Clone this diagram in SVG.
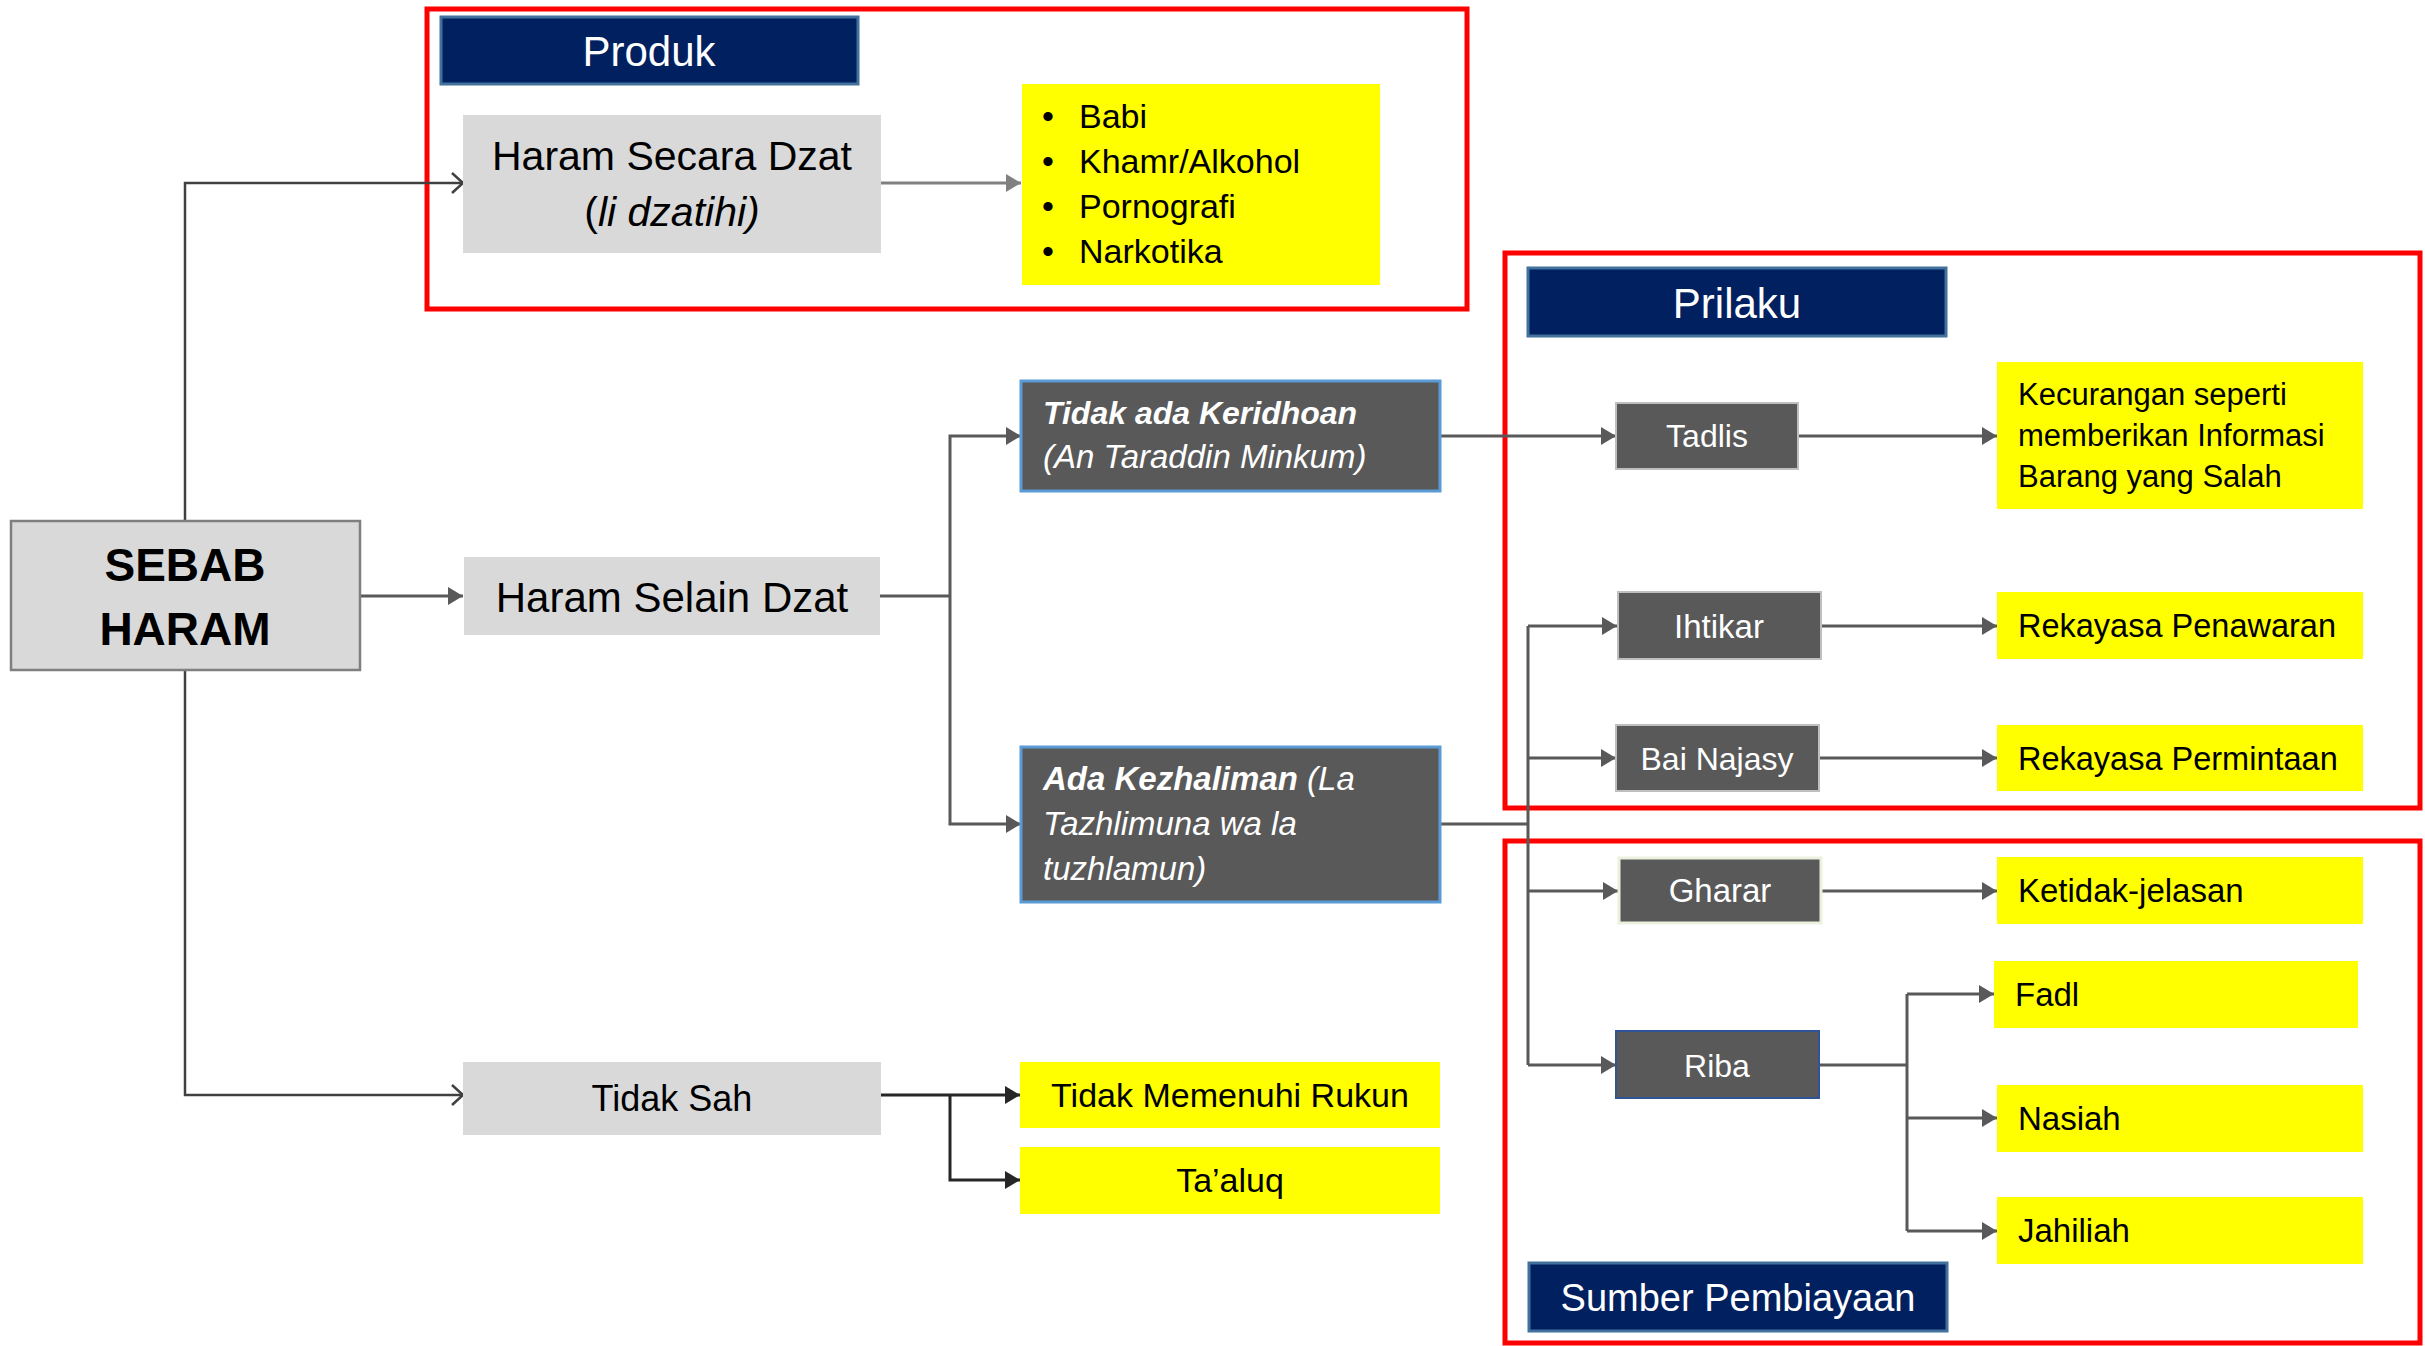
<svg xmlns="http://www.w3.org/2000/svg" width="2425" height="1346" viewBox="0 0 2425 1346">
  <style>
    .t { font-family: "Liberation Sans", Arial, sans-serif; }
    .dark { fill: #000000; }
    .light { fill: #ffffff; }
    .grey-box { fill: #d9d9d9; }
    .dark-box { fill: #595959; }
    .yellow { fill: #ffff00; }
    .header { fill: #002060; stroke: #41719c; stroke-width: 3; }
    .frame { fill: none; stroke: #ff0000; stroke-width: 5; }
    .conn { fill: none; stroke: #595959; stroke-width: 3; }
    .thin { fill: none; stroke: #404040; stroke-width: 2.5; }
  </style>
  <defs>
    <marker id="tri" markerUnits="userSpaceOnUse" markerWidth="16" markerHeight="18" refX="15" refY="9" orient="auto">
      <path d="M0,0 L15,9 L0,18 Z" fill="#595959"/>
    </marker>
    <marker id="tri-light" markerUnits="userSpaceOnUse" markerWidth="16" markerHeight="18" refX="15" refY="9" orient="auto">
      <path d="M0,0 L15,9 L0,18 Z" fill="#808080"/>
    </marker>
    <marker id="tri-black" markerUnits="userSpaceOnUse" markerWidth="16" markerHeight="18" refX="15" refY="9" orient="auto">
      <path d="M0,0 L15,9 L0,18 Z" fill="#262626"/>
    </marker>
    <marker id="open" markerUnits="userSpaceOnUse" markerWidth="16" markerHeight="24" refX="13" refY="12" orient="auto">
      <path d="M2,2 L13,12 L2,22" fill="none" stroke="#404040" stroke-width="2.5"/>
    </marker>
  </defs>

  <rect width="2425" height="1346" fill="#ffffff"/>

  <!-- grouping frames -->
  <g id="frames">
    <rect class="frame" x="427" y="9" width="1040" height="300"/>
    <rect class="frame" x="1505" y="253" width="915" height="555"/>
    <rect class="frame" x="1505" y="841" width="915" height="502"/>
  </g>

  <!-- connectors -->
  <g id="connectors">
    <path class="thin" d="M185,521 V183 H463" marker-end="url(#open)"/>
    <path class="thin" d="M185,670 V1095 H463" marker-end="url(#open)"/>
    <path class="conn" d="M360,596 H463" marker-end="url(#tri)"/>
    <path class="conn" stroke="#808080" style="stroke:#808080" d="M881,183 H1021" marker-end="url(#tri-light)"/>
    <path class="conn" d="M880,596 H950"/>
    <path class="conn" d="M950,596 V436 H1021" marker-end="url(#tri)"/>
    <path class="conn" d="M950,596 V824 H1021" marker-end="url(#tri)"/>
    <path class="conn" d="M1440,436 H1616" marker-end="url(#tri)"/>
    <path class="conn" d="M1440,824 H1528"/>
    <path class="conn" d="M1528,626 V1065"/>
    <path class="conn" d="M1528,626 H1617" marker-end="url(#tri)"/>
    <path class="conn" d="M1528,758 H1616" marker-end="url(#tri)"/>
    <path class="conn" d="M1528,891 H1618" marker-end="url(#tri)"/>
    <path class="conn" d="M1528,1065 H1616" marker-end="url(#tri)"/>
    <path class="conn" d="M1798,436 H1997" marker-end="url(#tri)"/>
    <path class="conn" d="M1821,626 H1997" marker-end="url(#tri)"/>
    <path class="conn" d="M1819,758 H1997" marker-end="url(#tri)"/>
    <path class="conn" d="M1821,891 H1997" marker-end="url(#tri)"/>
    <path class="conn" d="M1819,1065 H1907"/>
    <path class="conn" d="M1907,994 V1231"/>
    <path class="conn" d="M1907,994 H1994" marker-end="url(#tri)"/>
    <path class="conn" d="M1907,1118 H1997" marker-end="url(#tri)"/>
    <path class="conn" d="M1907,1231 H1997" marker-end="url(#tri)"/>
    <path class="conn" style="stroke:#262626" d="M881,1095 H1020" marker-end="url(#tri-black)"/>
    <path class="conn" style="stroke:#262626" d="M950,1095 V1180 H1020" marker-end="url(#tri-black)"/>
  </g>

  <!-- root -->
  <g id="sebab-haram">
    <rect class="grey-box" x="11" y="521" width="349" height="149" stroke="#7f7f7f" stroke-width="2.5"/>
    <text class="t dark" x="185" y="581" font-size="46" font-weight="bold" text-anchor="middle">SEBAB</text>
    <text class="t dark" x="185" y="645" font-size="46" font-weight="bold" text-anchor="middle">HARAM</text>
  </g>

  <!-- Produk -->
  <g id="produk-header">
    <rect class="header" x="441" y="17" width="417" height="67"/>
    <text class="t light" x="649" y="66" font-size="42" text-anchor="middle">Produk</text>
  </g>
  <g id="haram-secara-dzat">
    <rect class="grey-box" x="463" y="115" width="418" height="138"/>
    <text class="t dark" x="672" y="170" font-size="41" text-anchor="middle">Haram Secara Dzat</text>
    <text class="t dark" x="672" y="226" font-size="41" text-anchor="middle">(<tspan font-style="italic">li dzatihi)</tspan></text>
  </g>
  <g id="produk-list">
    <rect class="yellow" x="1022" y="84" width="358" height="201"/>
    <g class="t dark" font-size="34">
      <text x="1042" y="128">•</text><text x="1079" y="128">Babi</text>
      <text x="1042" y="173">•</text><text x="1079" y="173">Khamr/Alkohol</text>
      <text x="1042" y="218">•</text><text x="1079" y="218">Pornografi</text>
      <text x="1042" y="263">•</text><text x="1079" y="263">Narkotika</text>
    </g>
  </g>

  <!-- Haram Selain Dzat -->
  <g id="haram-selain-dzat">
    <rect class="grey-box" x="464" y="557" width="416" height="78"/>
    <text class="t dark" x="672" y="612" font-size="42" text-anchor="middle">Haram Selain Dzat</text>
  </g>
  <g id="tidak-ada-keridhoan">
    <rect class="dark-box" x="1021" y="381" width="419" height="110" stroke="#5b9bd5" stroke-width="3"/>
    <text class="t light" x="1043" y="424" font-size="32" font-weight="bold" font-style="italic">Tidak ada Keridhoan</text>
    <text class="t light" x="1043" y="468" font-size="33" font-style="italic">(An Taraddin Minkum)</text>
  </g>
  <g id="ada-kezhaliman">
    <rect class="dark-box" x="1021" y="747" width="419" height="155" stroke="#5b9bd5" stroke-width="3"/>
    <text class="t light" x="1043" y="790" font-size="33" font-style="italic"><tspan font-weight="bold">Ada Kezhaliman</tspan> (La</text>
    <text class="t light" x="1043" y="835" font-size="33" font-style="italic">Tazhlimuna wa la</text>
    <text class="t light" x="1043" y="880" font-size="33" font-style="italic">tuzhlamun)</text>
  </g>

  <!-- Prilaku -->
  <g id="prilaku-header">
    <rect class="header" x="1528" y="268" width="418" height="68"/>
    <text class="t light" x="1737" y="318" font-size="42" text-anchor="middle">Prilaku</text>
  </g>
  <g id="tadlis">
    <rect class="dark-box" x="1616" y="403" width="182" height="66" stroke="#bfbfbf" stroke-width="2"/>
    <text class="t light" x="1707" y="447" font-size="32" text-anchor="middle">Tadlis</text>
  </g>
  <g id="kecurangan">
    <rect class="yellow" x="1997" y="362" width="366" height="147"/>
    <g class="t dark" font-size="31">
      <text x="2018" y="405">Kecurangan seperti</text>
      <text x="2018" y="446">memberikan Informasi</text>
      <text x="2018" y="487">Barang yang Salah</text>
    </g>
  </g>
  <g id="ihtikar">
    <rect class="dark-box" x="1618" y="592" width="203" height="67" stroke="#bfbfbf" stroke-width="2"/>
    <text class="t light" x="1719" y="638" font-size="33" text-anchor="middle">Ihtikar</text>
  </g>
  <g id="rekayasa-penawaran">
    <rect class="yellow" x="1997" y="592" width="366" height="67"/>
    <text class="t dark" x="2018" y="637" font-size="32.5">Rekayasa Penawaran</text>
  </g>
  <g id="bai-najasy">
    <rect class="dark-box" x="1616" y="725" width="203" height="66" stroke="#bfbfbf" stroke-width="2"/>
    <text class="t light" x="1717" y="770" font-size="32" text-anchor="middle">Bai Najasy</text>
  </g>
  <g id="rekayasa-permintaan">
    <rect class="yellow" x="1997" y="725" width="366" height="66"/>
    <text class="t dark" x="2018" y="770" font-size="32.5">Rekayasa Permintaan</text>
  </g>

  <!-- Sumber Pembiayaan -->
  <g id="gharar">
    <rect class="dark-box" x="1619" y="858" width="202" height="65" stroke="#ebf1de" stroke-width="3"/>
    <text class="t light" x="1720" y="902" font-size="33" text-anchor="middle">Gharar</text>
  </g>
  <g id="ketidak-jelasan">
    <rect class="yellow" x="1997" y="857" width="366" height="67"/>
    <text class="t dark" x="2018" y="902" font-size="33">Ketidak-jelasan</text>
  </g>
  <g id="riba">
    <rect class="dark-box" x="1616" y="1031" width="203" height="67" stroke="#2f5597" stroke-width="2"/>
    <text class="t light" x="1717" y="1077" font-size="32" text-anchor="middle">Riba</text>
  </g>
  <g id="fadl">
    <rect class="yellow" x="1994" y="961" width="364" height="67"/>
    <text class="t dark" x="2015" y="1006" font-size="33">Fadl</text>
  </g>
  <g id="nasiah">
    <rect class="yellow" x="1997" y="1085" width="366" height="67"/>
    <text class="t dark" x="2018" y="1130" font-size="33">Nasiah</text>
  </g>
  <g id="jahiliah">
    <rect class="yellow" x="1997" y="1197" width="366" height="67"/>
    <text class="t dark" x="2018" y="1242" font-size="33">Jahiliah</text>
  </g>
  <g id="sumber-header">
    <rect class="header" x="1529" y="1263" width="418" height="68"/>
    <text class="t light" x="1738" y="1311" font-size="38" text-anchor="middle">Sumber Pembiayaan</text>
  </g>

  <!-- Tidak Sah -->
  <g id="tidak-sah">
    <rect class="grey-box" x="463" y="1062" width="418" height="73"/>
    <text class="t dark" x="672" y="1111" font-size="36" text-anchor="middle">Tidak Sah</text>
  </g>
  <g id="tidak-memenuhi-rukun">
    <rect class="yellow" x="1020" y="1062" width="420" height="66"/>
    <text class="t dark" x="1230" y="1107" font-size="34" text-anchor="middle">Tidak Memenuhi Rukun</text>
  </g>
  <g id="taaluq">
    <rect class="yellow" x="1020" y="1147" width="420" height="67"/>
    <text class="t dark" x="1230" y="1192" font-size="34" text-anchor="middle">Ta’aluq</text>
  </g>
</svg>
